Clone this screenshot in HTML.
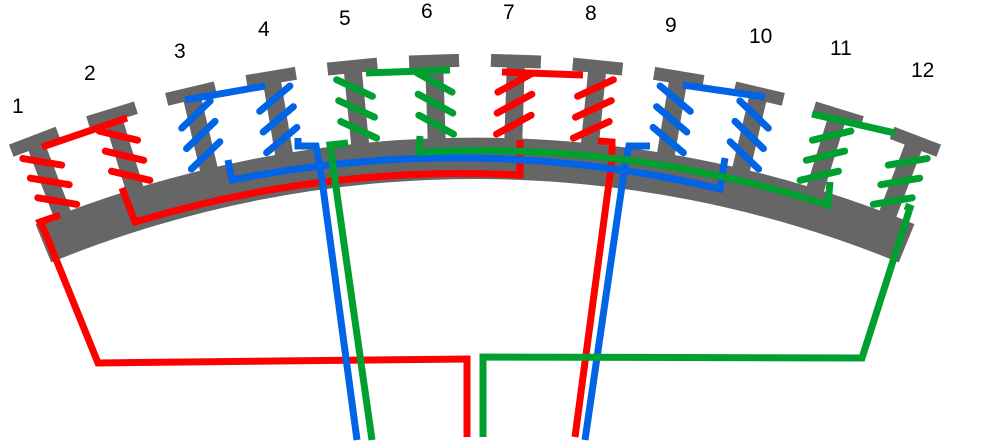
<!DOCTYPE html>
<html><head><meta charset="utf-8"><style>
html,body{margin:0;padding:0;background:#fff;width:1008px;height:448px;overflow:hidden}
text{font-family:"Liberation Sans",sans-serif;font-size:21px;fill:#000}
</style></head><body>
<svg width="1008" height="448" viewBox="0 0 1008 448" xmlns="http://www.w3.org/2000/svg">
<defs>
<g id="tooth"><rect x="466" y="62" width="18" height="82" fill="#666"/><rect x="450" y="54" width="50" height="13" fill="#666"/></g>
<g id="cdr" stroke-width="7" stroke-linecap="round" fill="none"><line x1="458" y1="72" x2="492" y2="92"/><line x1="458" y1="93" x2="492" y2="113"/><line x1="458" y1="114" x2="492" y2="134"/></g>
<g id="cur" stroke-width="7" stroke-linecap="round" fill="none"><line x1="458" y1="92" x2="492" y2="72"/><line x1="458" y1="113" x2="492" y2="93"/><line x1="458" y1="134" x2="492" y2="114"/></g>
</defs>
<path d="M35.5,224.1 A1160,1160 0 0 1 914.5,224.1 L898.8,262.4 A1118,1118 0 0 0 51.2,262.4 Z" fill="#666"/>
<g>
<use href="#tooth" transform="rotate(-20.9 475 1295)"/>
<use href="#tooth" transform="rotate(-17.1 475 1295)"/>
<use href="#tooth" transform="rotate(-13.3 475 1295)"/>
<use href="#tooth" transform="rotate(-9.5 475 1295)"/>
<use href="#tooth" transform="rotate(-5.7 475 1295)"/>
<use href="#tooth" transform="rotate(-1.9 475 1295)"/>
<use href="#tooth" transform="rotate(1.9 475 1295)"/>
<use href="#tooth" transform="rotate(5.7 475 1295)"/>
<use href="#tooth" transform="rotate(9.5 475 1295)"/>
<use href="#tooth" transform="rotate(13.3 475 1295)"/>
<use href="#tooth" transform="rotate(17.1 475 1295)"/>
<use href="#tooth" transform="rotate(20.9 475 1295)"/>
</g>
<g fill="none" stroke-width="7" stroke-linejoin="miter">
<path stroke="#f00" d="M467,437 L467,359 L98,363 L45,232 L40,222 L60,215"/>
<path stroke="#f00" d="M42,147 L127,118"/>
<path stroke="#f00" d="M122,188 L135,222 A1124,1124 0 0 1 520,175 L520,140"/>
<path stroke="#f00" d="M502,72 L583,75"/>
<path stroke="#f00" d="M598,141 L612,142 L612,160 L575,437"/>
<path stroke="#0064e6" d="M357,440 L322,180 L316,146 L298,146 L298,138"/>
<path stroke="#0064e6" d="M185,100 L265,86"/>
<path stroke="#0064e6" d="M228,160 L232,180 A1140,1140 0 0 1 720,189 L725,158"/>
<path stroke="#0064e6" d="M683,85 L765,97"/>
<path stroke="#0064e6" d="M650,146 L629,146 L625,165 L585,440"/>
<path stroke="#00a030" d="M372,440 L330,145 L348,143"/>
<path stroke="#00a030" d="M366,73 L450,70"/>
<path stroke="#00a030" d="M420,136 L419,152 A1146,1146 0 0 1 828,205 L830,182"/>
<path stroke="#00a030" d="M812,114 L895,133"/>
<path stroke="#00a030" d="M905,206 L910,208 L862,358 L483,357 L483,437"/>
</g>
<use href="#cdr" stroke="#f00" transform="rotate(-20.9 475 1295)"/>
<use href="#cdr" stroke="#f00" transform="rotate(-17.1 475 1295)"/>
<use href="#cur" stroke="#0064e6" transform="rotate(-13.3 475 1295)"/>
<use href="#cur" stroke="#0064e6" transform="rotate(-9.5 475 1295)"/>
<use href="#cdr" stroke="#00a030" transform="rotate(-5.7 475 1295)"/>
<use href="#cdr" stroke="#00a030" transform="rotate(-1.9 475 1295)"/>
<use href="#cur" stroke="#f00" transform="rotate(1.9 475 1295)"/>
<use href="#cur" stroke="#f00" transform="rotate(5.7 475 1295)"/>
<use href="#cdr" stroke="#0064e6" transform="rotate(9.5 475 1295)"/>
<use href="#cdr" stroke="#0064e6" transform="rotate(13.3 475 1295)"/>
<use href="#cur" stroke="#00a030" transform="rotate(17.1 475 1295)"/>
<use href="#cur" stroke="#00a030" transform="rotate(20.9 475 1295)"/>
<text x="12" y="113">1</text>
<text x="84" y="80">2</text>
<text x="174" y="58">3</text>
<text x="258" y="36">4</text>
<text x="339" y="25">5</text>
<text x="421" y="18">6</text>
<text x="503" y="19">7</text>
<text x="585" y="20">8</text>
<text x="665" y="32">9</text>
<text x="749" y="43">10</text>
<text x="830" y="55">11</text>
<text x="911" y="77">12</text>
</svg>
</body></html>
